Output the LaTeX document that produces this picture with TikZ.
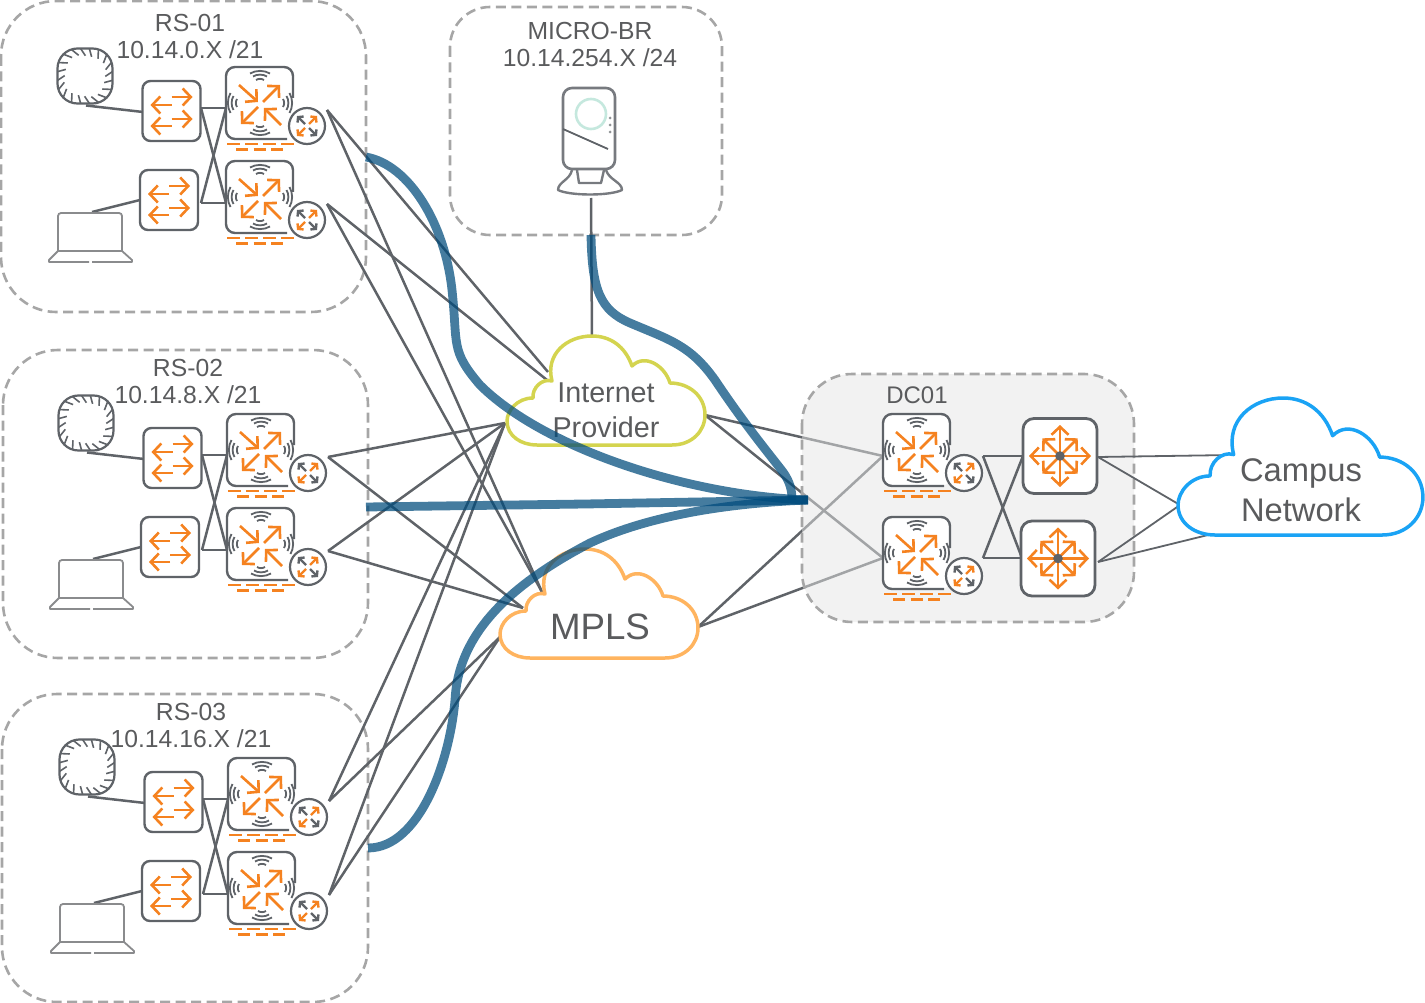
\documentclass[tikz,border=0pt]{standalone}
\usepackage{fontspec}
\setmainfont{Liberation Sans}
\usepackage{tikz}
\usetikzlibrary{calc,arrows.meta}

\definecolor{iconstroke}{HTML}{5F6368}
\definecolor{textgrey}{HTML}{5A5B5D}
\definecolor{boxgrey}{HTML}{A6A6A6}
\definecolor{arrorange}{HTML}{F58220}
\definecolor{tunnelblue}{HTML}{004B7C}
\definecolor{inetyellow}{HTML}{D4D44F}
\definecolor{mplsorange}{HTML}{FFB45F}
\definecolor{campusblue}{HTML}{1AA3F5}
\definecolor{lensmint}{HTML}{C5E8DE}

\newcommand{\cloudline}{(30,109) -- (165,109) .. controls (185,109) and (198,95) .. (198,79)
    .. controls (198,60) and (182,47) .. (163,47) .. controls (158,30) and (138,17) .. (125,30)
    .. controls (118,10) and (103,0) .. (85,0) .. controls (60,0) and (38,18) .. (45,45)
    .. controls (35,42) and (25,52) .. (26,62) .. controls (10,62) and (0,75) .. (0,85)
    .. controls (0,100) and (14,109) .. (30,109) -- cycle}

\tikzset{
  sitebox/.style={draw=boxgrey,line width=2.6pt,dash pattern=on 10pt off 5.5pt},
  linkline/.style={draw=iconstroke,line width=2.5pt},
  devbox/.style={draw=iconstroke,fill=white,line width=2.4pt,rounded corners=8pt},
  arr/.style={draw=arrorange,line width=2.6pt},
  barb/.style={-{Straight Barb[length=8pt,width=17pt]}},
  smallbarb/.style={-{Straight Barb[length=3.5pt,width=8.5pt]},line width=2.4pt},
  cloudedge/.style={fill=white,line width=3.5pt,line join=round},
  tunnel/.style={draw=tunnelblue,line width=8.8pt,draw opacity=0.73},
  sitetext/.style={text=textgrey,font=\fontsize{24.7}{27}\selectfont,align=center},
  wave/.pic={
    \draw[draw=iconstroke,line width=1.8pt]
      (-4,-23) .. controls (-2,-24.5) and (2,-24.5) .. (4,-23)
      (-7,-26.5) .. controls (-3,-29) and (3,-29) .. (7,-26.5)
      (-10,-29.5) .. controls (-4,-33) and (4,-33) .. (10,-29.5);
  },
  routerbadge/.pic={
    \draw[draw=iconstroke,fill=white,line width=2.2pt] (0,0) circle (18pt);
    \draw[smallbarb,draw=iconstroke] (-2,-2) -- (-10,-10);
    \draw[smallbarb,draw=arrorange] (2,-2) -- (10,-10);
    \draw[smallbarb,draw=arrorange] (-2,2) -- (-10,10);
    \draw[smallbarb,draw=iconstroke] (2,2) -- (10,10);
  },
  % the wireless gateway, with its badge and the dashes below it
  wangw/.pic={
    \fill[white,rounded corners=9pt] (-34,-36) rectangle (33,36);
    \draw[draw=iconstroke,line width=2.4pt,rounded corners=9pt]
      (27,36) -- (-34,36) -- (-34,-36) -- (33,-36) -- (33,-5);
    \foreach \a in {0,90,180,270} \pic[rotate=\a] {wave};
    \draw[arr,barb] (-21,-18) -- (-2,-1);
    \draw[arr,barb] (3,-1) -- (20,-18);
    \draw[arr,barb] (-2,4) -- (-19,21);
    \draw[arr,barb] (21,22) -- (4,5);
    \pic at (47,23) {routerbadge};
    \draw[arr,line width=2.2pt,dash pattern=on 12.5pt off 5.5pt] (-33,41) -- (33.5,41);
    \draw[arr,line width=2.2pt,dash pattern=on 12pt off 5.5pt] (-24,46.5) -- (23.5,46.5);
  },
  swbox/.pic={
    \draw[devbox] (-29,-30) rectangle (29,30);
    \draw[arr,barb] (0,-14) -- (21,-14);
    \draw[arr,barb] (0,-6) -- (-21,-6);
    \draw[arr,barb] (0,8) -- (21,8);
    \draw[arr,barb] (0,15) -- (-21,15);
  },
  apunit/.pic={
    \draw[draw=iconstroke,fill=white,line width=2.2pt,rounded corners=20pt] (-27.5,-27.5) rectangle (27.5,27.5);
    \foreach \a in {9,27,...,351} {
      \pgfmathsetmacro{\rr}{27.5/(abs(cos(\a))^3+abs(sin(\a))^3)^(1/3)}
      \draw[draw=iconstroke,line width=1.6pt] (\a:\rr) -- (\a+10:0.73*\rr);
    }
  },
  laptopunit/.pic={
    \draw[draw=boxgrey!60!iconstroke,line width=1.8pt,rounded corners=3pt] (-33,38) -- (-33,0) -- (31,0) -- (31,38);
    \draw[draw=boxgrey!60!iconstroke,line width=1.8pt,line join=round]
      (-2,49) -- (-42,49) -- (-42,47) -- (-33,38) -- (31,38) -- (41,47) -- (41,49) -- (1,49);
  },
  coreunit/.pic={
    \draw[devbox,line width=2.8pt,rounded corners=11pt] (-37,-37.5) rectangle (37,37.5);
    \foreach \a/\r in {0/31,45/25,90/31,135/25,180/31,225/25,270/31,315/25}
      \draw[arr,barb] (\a:4) -- (\a:\r);
    \fill[iconstroke] (0,0) circle (4.8pt);
  },
  % one remote site, its outer corners given by the coordinates below
  branch/.pic={
    \coordinate (-apout) at (86,105.5);
    \coordinate (-swain) at (143,112);
    \coordinate (-lapout) at (92,212);
    \coordinate (-swbin) at (140,200);
    \coordinate (-swaout) at (201,108);
    \coordinate (-swbout) at (201,203);
    \coordinate (-gwain) at (226,108);
    \coordinate (-gwbin) at (226,203);
    \coordinate (-outa) at (327,110);
    \coordinate (-outb) at (327,204);
    \draw[linkline] (-apout) -- (-swain);
    \draw[linkline] (-lapout) -- (-swbin);
    \draw[linkline] (-swaout) -- (-gwain);
    \draw[linkline] (-swaout) -- (-gwbin);
    \draw[linkline] (-swbout) -- (-gwain);
    \draw[linkline] (-swbout) -- (-gwbin);
    \pic at (85,76) {apunit};
    \pic at (91,213) {laptopunit};
    \pic at (171.5,111) {swbox};
    \pic at (169,200) {swbox};
    \pic at (260,103) {wangw};
    \pic at (260,197) {wangw};
  },
}

\begin{document}
\begin{tikzpicture}[x=1pt,y=-1pt]
    \useasboundingbox (0,0) rectangle (1425,1003);

    % site outlines
    \draw[sitebox,rounded corners=55pt] (1,1) rectangle (366,312);
    \draw[sitebox,rounded corners=55pt] (3,350) rectangle (368,658);
    \draw[sitebox,rounded corners=55pt] (2,694) rectangle (368,1002);
    \draw[sitebox,rounded corners=40pt] (450,7) rectangle (722,235);

    \pic (rsa) at (0,0) {branch};
    \pic (rsb) at (1,347) {branch};
    \pic (rsc) at (2,691) {branch};

    \node[sitetext] (rsalabel) at (190,36.8) {RS-01\\10.14.0.X /21};
    \node[sitetext] (rsblabel) at (188,381.8) {RS-02\\10.14.8.X /21};
    \node[sitetext] (rsclabel) at (191,725.8) {RS-03\\10.14.16.X /21};
    \node[sitetext] (microlabel) at (590,44.8) {MICRO-BR\\10.14.254.X /24};

    % where the links land on the clouds
    \coordinate (inettopa) at (548,372);
    \coordinate (inettopb) at (547,380);
    \coordinate (inetleft) at (505,423);
    \coordinate (inetright) at (705,415);
    \coordinate (mplstop) at (542,592);
    \coordinate (mplsmid) at (523,608);
    \coordinate (mplsleft) at (500,637);
    \coordinate (mplsright) at (698,627);
    \coordinate (dcgwa) at (883,456);
    \coordinate (dcgwb) at (883,558);
    \coordinate (microdev) at (591,198);
    \coordinate (inetcrown) at (592,337);

    \draw[linkline] (microdev) -- (inetcrown);
    \draw[linkline] (rsa-outa) -- (inettopa);
    \draw[linkline] (rsa-outb) -- (inettopb);
    \draw[linkline] (rsa-outa) -- (mplstop);
    \draw[linkline] (rsa-outb) -- (mplstop);
    \draw[linkline] (rsb-outa) -- (inetleft);
    \draw[linkline] (rsb-outb) -- (inetleft);
    \draw[linkline] (rsb-outa) -- (mplsmid);
    \draw[linkline] (rsb-outb) -- (mplsmid);
    \draw[linkline] (rsc-outa) -- (inetleft);
    \draw[linkline] (rsc-outb) -- (inetleft);
    \draw[linkline] (rsc-outa) -- (mplsleft);
    \draw[linkline] (rsc-outb) -- (mplsleft);
    \draw[linkline] (inetright) -- (dcgwa);
    \draw[linkline] (inetright) -- (dcgwb);
    \draw[linkline] (mplsright) -- (dcgwa);
    \draw[linkline] (mplsright) -- (dcgwb);

    % clouds
    \draw[cloudedge,draw=inetyellow,shift={(507,336)}] \cloudline;
    \draw[cloudedge,draw=mplsorange,shift={(500,549)}] \cloudline;
    \node[text=textgrey,font=\fontsize{28.7}{35}\selectfont,align=center] (inetlabel) at (606,410) {Internet\\Provider};
    \node[text=textgrey,font=\fontsize{36.7}{40}\selectfont] (mplslabel) at (600,627) {MPLS};

    % micro branch device
    \draw[draw=iconstroke!85,line width=2.4pt,line join=round] (572,170) .. controls (570,180) and (558,182) .. (558,190)
        .. controls (570,196) and (610,196) .. (622,190) .. controls (622,182) and (609,180) .. (606,170);
    \draw[draw=iconstroke!85,line width=2.4pt,line join=round] (577,170) -- (579,183) -- (601,183) -- (604,170);
    \draw[draw=iconstroke!85,fill=white,line width=2.6pt,rounded corners=9pt] (563,88) rectangle (615,169);
    \draw[draw=lensmint,line width=2.6pt] (591,114) circle (15pt);
    \draw[draw=iconstroke,line width=1.8pt] (563,129) -- (608,149);
    \foreach \y in {118,125,132} \fill[iconstroke!70] (610,\y) circle (1.5pt);

    % data center, laid over the links so they fade inside it
    \draw[sitebox,fill=black!10,fill opacity=0.5,rounded corners=50pt] (802,374) rectangle (1134,622);
    \node[sitetext,font=\fontsize{24}{27}\selectfont] (dclabel) at (917,395) {DC01};
    \coordinate (dcouta) at (983,456);
    \coordinate (dcoutb) at (983,558);
    \coordinate (corea) at (1023,456);
    \coordinate (coreb) at (1022,558);
    \draw[linkline] (dcouta) -- (corea);
    \draw[linkline] (dcouta) -- (coreb);
    \draw[linkline] (dcoutb) -- (corea);
    \draw[linkline] (dcoutb) -- (coreb);
    \pic at (917,450) {wangw};
    \pic at (917,553) {wangw};
    \pic at (1060,456) {coreunit};
    \pic at (1058,558.5) {coreunit};

    % campus side
    \coordinate (coreaout) at (1098,457);
    \coordinate (corebout) at (1098,562);
    \coordinate (campustop) at (1232,455);
    \coordinate (campusleft) at (1180,505);
    \coordinate (campusbase) at (1212,534);
    \draw[linkline,line width=1.8pt] (coreaout) -- (campustop);
    \draw[linkline,line width=1.8pt] (coreaout) -- (campusleft);
    \draw[linkline,line width=1.8pt] (corebout) -- (campusleft);
    \draw[linkline,line width=1.8pt] (corebout) -- (campusbase);
    \draw[cloudedge,draw=campusblue,shift={(1178,398)},xscale=1.237,yscale=1.257] \cloudline;
    \node[text=textgrey,font=\fontsize{32.7}{40}\selectfont,align=center] (campuslabel) at (1301,490) {Campus\\Network};

    % overlay tunnels
    \coordinate (hub) at (808,500);
    \coordinate (rsatun) at (366,157);
    \coordinate (microtun) at (591,235);
    \coordinate (rsbtun) at (366,507);
    \coordinate (rsctun) at (368,848);
    \draw[tunnel] (rsatun) .. controls (410,165) and (445,225) .. (452,290) .. controls (458,345) and (450,350) .. (480,385)
        .. controls (540,445) and (680,495) .. (hub);
    \draw[tunnel] (microtun) .. controls (592,290) and (600,310) .. (630,323) .. controls (670,340) and (690,345) .. (715,380)
        .. controls (745,425) and (770,455) .. (783,472) .. controls (790,482) and (792,490) .. (792,500);
    \draw[tunnel] (rsbtun) -- (585,504) -- (hub);
    \draw[tunnel] (rsctun) .. controls (420,848) and (450,760) .. (455,700) .. controls (458,640) and (500,590) .. (590,543)
        .. controls (650,515) and (730,503) .. (hub);
\end{tikzpicture}
\end{document}
